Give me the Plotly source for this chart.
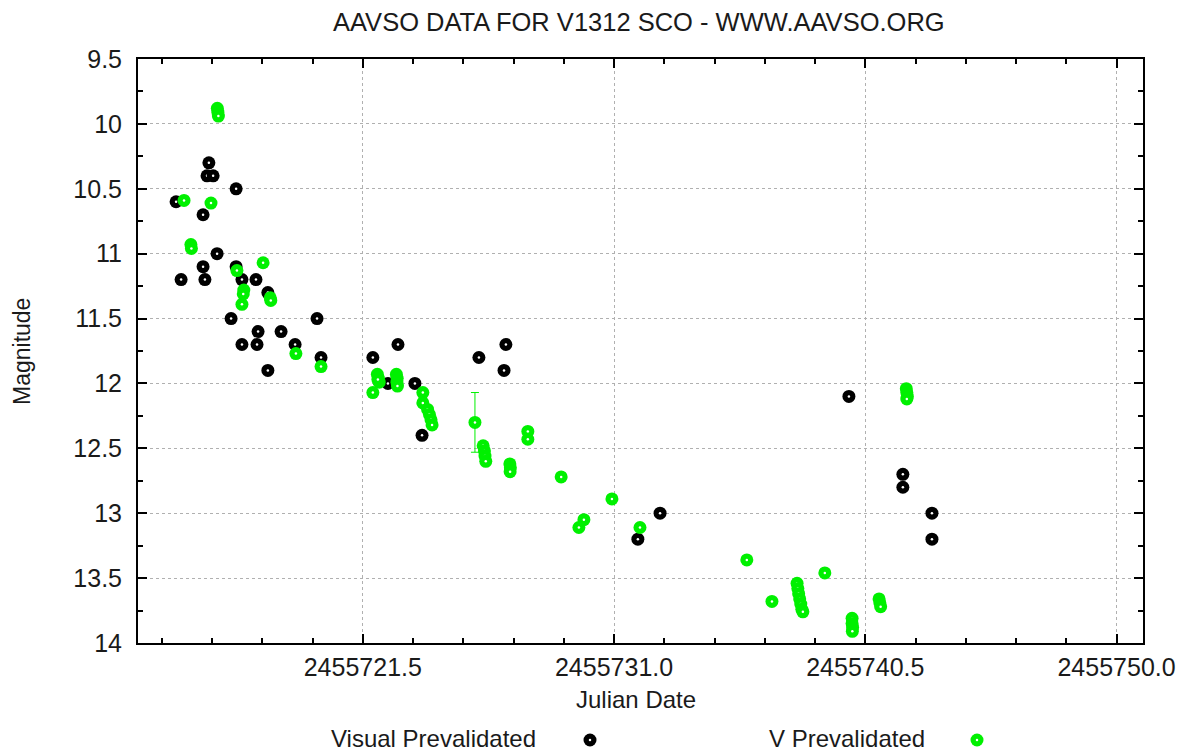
import plotly.graph_objects as go

# Visual (prevalidated) estimates: Julian Date, magnitude
visual_jd = [
    2455714.44, 2455714.63, 2455715.46, 2455715.61, 2455715.68, 2455715.84,
    2455715.46, 2455715.53, 2455715.99, 2455716.71, 2455716.71, 2455716.93,
    2455716.52, 2455716.93, 2455717.46, 2455717.54, 2455717.50, 2455717.91,
    2455717.91, 2455718.41, 2455718.94, 2455719.77, 2455719.92, 2455721.88,
    2455722.45, 2455722.83, 2455723.47, 2455723.74, 2455725.89, 2455726.91,
    2455726.84, 2455731.90, 2455732.74, 2455739.88, 2455741.92, 2455741.92,
    2455743.02, 2455743.02,
]
visual_mag = [
    10.6, 11.2, 10.7, 10.4, 10.3, 10.4,
    11.1, 11.2, 11.0, 10.5, 11.1, 11.2,
    11.5, 11.7, 11.2, 11.6, 11.7, 11.3,
    11.9, 11.6, 11.7, 11.5, 11.8, 11.8,
    12.0, 11.7, 12.0, 12.4, 11.8, 11.7,
    11.9, 13.2, 13.0, 12.1, 12.7, 12.8,
    13.0, 13.2,
]

# V-band (prevalidated) measurements: Julian Date, magnitude, error
v_jd = [
    2455716.00, 2455716.02, 2455716.04,
    2455714.74, 2455715.76, 2455715.00, 2455715.02,
    2455717.73, 2455716.74, 2455717.00, 2455716.98, 2455716.93,
    2455718.00, 2455718.02, 2455718.97, 2455719.92, 2455721.88,
    2455722.05, 2455722.09, 2455722.12, 2455722.07,
    2455722.77, 2455722.80, 2455722.79, 2455722.81,
    2455723.77, 2455723.77, 2455723.95, 2455724.02, 2455724.08, 2455724.12,
    2455725.74,
    2455726.05, 2455726.10, 2455726.12, 2455726.15,
    2455727.06, 2455727.08, 2455727.07,
    2455727.74, 2455727.74,
    2455729.00, 2455729.86, 2455729.67, 2455730.92, 2455731.98,
    2455736.02, 2455736.97,
    2455737.92, 2455737.95, 2455737.98, 2455738.02, 2455738.06, 2455738.10, 2455738.14,
    2455738.97,
    2455740.00, 2455740.00, 2455740.02, 2455740.01,
    2455741.02, 2455741.05, 2455741.08,
    2455742.05, 2455742.07, 2455742.09, 2455742.07,
]
v_mag = [
    9.88, 9.91, 9.94,
    10.59, 10.61, 10.93, 10.96,
    11.07, 11.13, 11.28, 11.31, 11.39,
    11.34, 11.36, 11.77, 11.87, 12.07,
    11.93, 11.96, 11.99, 11.97,
    11.93, 11.96, 11.99, 12.02,
    12.07, 12.15, 12.20, 12.24, 12.28, 12.32,
    12.30,
    12.48, 12.52, 12.56, 12.60,
    12.62, 12.65, 12.68,
    12.37, 12.43,
    12.72, 13.05, 13.11, 12.89, 13.11,
    13.36, 13.68,
    13.54, 13.58, 13.62, 13.66, 13.70, 13.74, 13.76,
    13.46,
    13.81, 13.85, 13.88, 13.91,
    13.66, 13.69, 13.72,
    12.04, 12.07, 12.10, 12.12,
]
v_err = [None] * len(v_mag)
v_err[v_jd.index(2455725.74)] = 0.23

x_ticks = [2455721.5, 2455731.0, 2455740.5, 2455750.0]
x_tick_text = ["2455721.5", "2455731.0", "2455740.5", "2455750.0"]
y_ticks = [9.5, 10, 10.5, 11, 11.5, 12, 12.5, 13, 13.5, 14]
y_tick_text = ["9.5", "10", "10.5", "11", "11.5", "12", "12.5", "13", "13.5", "14"]

GREEN = "#00f000"
INK = "#1a1a1a"
FONT = "Liberation Sans, Arial, sans-serif"
DOT = 13
SPECK = 2.5


def sphere_arrays(xs, ys, color):
    """Interleave each disc with a small white highlight so later discs cover earlier ones."""
    px, py, sizes, colors = [], [], [], []
    for x, y in zip(xs, ys):
        px += [x, x]
        py += [y, y]
        sizes += [DOT, SPECK]
        colors += [color, "white"]
    return px, py, sizes, colors


fig = go.Figure()

# error bar on V measurements
fig.add_trace(go.Scatter(
    x=v_jd, y=v_mag, mode="markers",
    marker=dict(size=1, color="rgba(0,0,0,0)"),
    error_y=dict(type="data", array=v_err, visible=True, color=GREEN, thickness=1, width=4),
    showlegend=False, hoverinfo="skip",
))

vx, vy, vs, vc = sphere_arrays(visual_jd, visual_mag, "black")
fig.add_trace(go.Scatter(
    x=vx, y=vy, mode="markers", name="Visual Prevalidated",
    marker=dict(size=vs, color=vc, opacity=1, line=dict(width=0)), showlegend=False,
))

gx, gy, gs, gc = sphere_arrays(v_jd, v_mag, GREEN)
fig.add_trace(go.Scatter(
    x=gx, y=gy, mode="markers", name="V Prevalidated",
    marker=dict(size=gs, color=gc, opacity=1, line=dict(width=0)), showlegend=False,
))

axis_common = dict(
    showline=True, linecolor="black", linewidth=2, mirror="allticks",
    ticks="inside", ticklen=9, tickwidth=1.5, tickcolor="black",
    showgrid=True, gridcolor="#b0b0b0", griddash="dot", gridwidth=1,
    zeroline=False,
    tickfont=dict(family=FONT, size=25, color=INK),
)

fig.update_xaxes(
    range=[2455713.0, 2455751.0],
    tickvals=x_ticks, ticktext=x_tick_text, ticklabelstandoff=1,
    minor=dict(dtick=1.9, tick0=2455721.5, ticks="inside", ticklen=5,
               tickcolor="black", tickwidth=1.5, showgrid=False),
    **axis_common,
)
fig.update_yaxes(
    range=[14, 9.5],
    tickvals=y_ticks, ticktext=y_tick_text, ticklabelstandoff=9,
    minor=dict(dtick=0.25, tick0=9.5, ticks="inside", ticklen=5,
               tickcolor="black", tickwidth=1.5, showgrid=False),
    **axis_common,
)

L, R, T, B = 138, 41, 59, 108
W, H = 1184, 751
plot_w, plot_h = W - L - R, H - T - B


def px_to_paper(xp, yp):
    return (xp - L) / plot_w, (H - B - yp) / plot_h


def text_at(label, xp, yp, size, xanchor="center", angle=0):
    x, y = px_to_paper(xp, yp)
    return dict(text=label, xref="paper", yref="paper", x=x, y=y,
                xanchor=xanchor, yanchor="middle", showarrow=False, textangle=angle,
                font=dict(family=FONT, size=size, color=INK))


annotations = [
    text_at("AAVSO DATA FOR V1312 SCO - WWW.AAVSO.ORG", 639, 22, 25.5),
    text_at("Julian Date", 636, 700, 24),
    text_at("Magnitude", 22, 352, 23, angle=-90),
]
shapes = []
legend_items = [("Visual Prevalidated", 538, 590, "black"), ("V Prevalidated", 927, 977, GREEN)]
for label, text_right, marker_x, color in legend_items:
    annotations.append(text_at(label, text_right, 738, 24, xanchor="right"))
    mx, my = px_to_paper(marker_x, 740)
    shapes.append(dict(type="circle", xref="paper", yref="paper", xsizemode="pixel",
                       ysizemode="pixel", xanchor=mx, yanchor=my, x0=-6.5, x1=6.5,
                       y0=-6.5, y1=6.5, fillcolor=color, line=dict(width=0)))
    shapes.append(dict(type="circle", xref="paper", yref="paper", xsizemode="pixel",
                       ysizemode="pixel", xanchor=mx, yanchor=my, x0=-1.25, x1=1.25,
                       y0=-1.25, y1=1.25, fillcolor="white", line=dict(width=0)))

fig.update_layout(
    width=W, height=H,
    margin=dict(l=L, r=R, t=T, b=B, autoexpand=False),
    paper_bgcolor="white", plot_bgcolor="white",
    showlegend=False,
    annotations=annotations, shapes=shapes,
)

fig.write_html("out.html")
